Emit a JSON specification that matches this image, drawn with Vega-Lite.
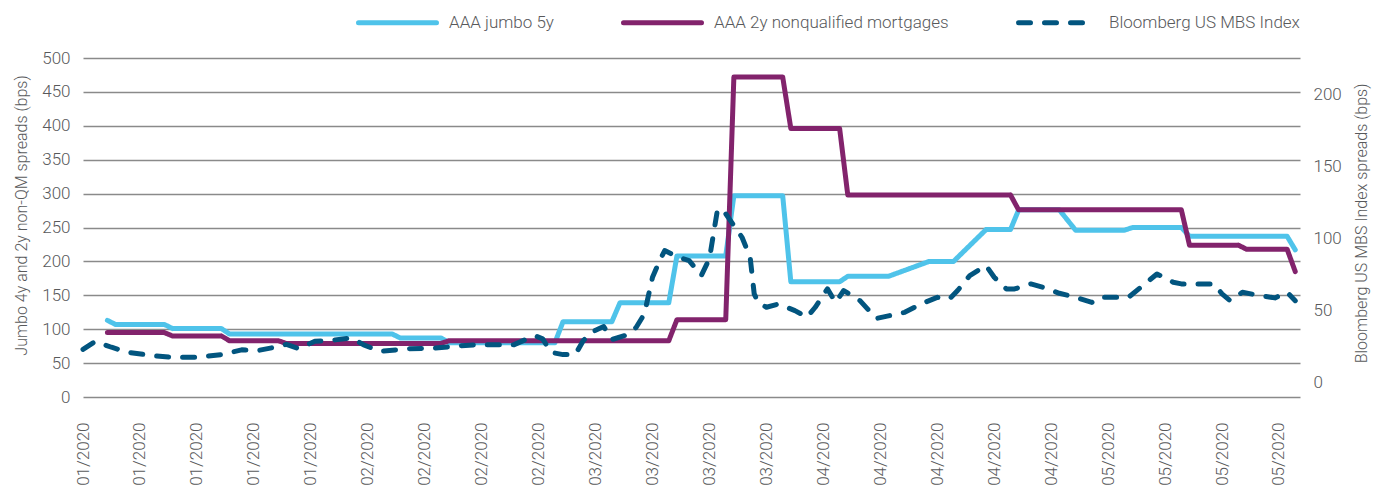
{
  "$schema": "https://vega.github.io/schema/vega-lite/v6.json",
  "width": 1217,
  "height": 339,
  "autosize": {"type": "none"},
  "padding": {"left": 83, "top": 58, "right": 88, "bottom": 90},
  "config": {
    "font": "Roboto",
    "view": {"stroke": null},
    "axis": {
      "labelFont": "Roboto", "labelFontSize": 17, "labelFontWeight": 300, "labelColor": "#58595b",
      "titleFont": "Roboto", "titleFontSize": 16, "titleFontWeight": 300, "titleColor": "#58595b",
      "ticks": false, "tickSize": 0, "domain": false,
      "gridColor": "#8a8a8a", "gridWidth": 1.4
    },
    "legend": {
      "labelFont": "Roboto", "labelFontSize": 17, "labelFontWeight": 300, "labelColor": "#58595b", "padding": 0, "labelLimit": 400
    }
  },
  "data": {
    "values": [
      {"date": "2020-01-04", "series": "AAA jumbo 5y", "bps": 113},
      {"date": "2020-01-05", "series": "AAA jumbo 5y", "bps": 107},
      {"date": "2020-01-11", "series": "AAA jumbo 5y", "bps": 107},
      {"date": "2020-01-12", "series": "AAA jumbo 5y", "bps": 101},
      {"date": "2020-01-18", "series": "AAA jumbo 5y", "bps": 101},
      {"date": "2020-01-19", "series": "AAA jumbo 5y", "bps": 93},
      {"date": "2020-02-08", "series": "AAA jumbo 5y", "bps": 93},
      {"date": "2020-02-09", "series": "AAA jumbo 5y", "bps": 87},
      {"date": "2020-02-14", "series": "AAA jumbo 5y", "bps": 87},
      {"date": "2020-02-15", "series": "AAA jumbo 5y", "bps": 80},
      {"date": "2020-02-28", "series": "AAA jumbo 5y", "bps": 80},
      {"date": "2020-02-29", "series": "AAA jumbo 5y", "bps": 111},
      {"date": "2020-03-06", "series": "AAA jumbo 5y", "bps": 111},
      {"date": "2020-03-07", "series": "AAA jumbo 5y", "bps": 139},
      {"date": "2020-03-13", "series": "AAA jumbo 5y", "bps": 139},
      {"date": "2020-03-14", "series": "AAA jumbo 5y", "bps": 208},
      {"date": "2020-03-20", "series": "AAA jumbo 5y", "bps": 208},
      {"date": "2020-03-21", "series": "AAA jumbo 5y", "bps": 297},
      {"date": "2020-03-27", "series": "AAA jumbo 5y", "bps": 297},
      {"date": "2020-03-28", "series": "AAA jumbo 5y", "bps": 170},
      {"date": "2020-04-03", "series": "AAA jumbo 5y", "bps": 170},
      {"date": "2020-04-04", "series": "AAA jumbo 5y", "bps": 178},
      {"date": "2020-04-09", "series": "AAA jumbo 5y", "bps": 178},
      {"date": "2020-04-14", "series": "AAA jumbo 5y", "bps": 200},
      {"date": "2020-04-17", "series": "AAA jumbo 5y", "bps": 200},
      {"date": "2020-04-21", "series": "AAA jumbo 5y", "bps": 247},
      {"date": "2020-04-24", "series": "AAA jumbo 5y", "bps": 247},
      {"date": "2020-04-25", "series": "AAA jumbo 5y", "bps": 276},
      {"date": "2020-04-30", "series": "AAA jumbo 5y", "bps": 276},
      {"date": "2020-05-02", "series": "AAA jumbo 5y", "bps": 246},
      {"date": "2020-05-08", "series": "AAA jumbo 5y", "bps": 246},
      {"date": "2020-05-09", "series": "AAA jumbo 5y", "bps": 250},
      {"date": "2020-05-15", "series": "AAA jumbo 5y", "bps": 250},
      {"date": "2020-05-16", "series": "AAA jumbo 5y", "bps": 237},
      {"date": "2020-05-28", "series": "AAA jumbo 5y", "bps": 237},
      {"date": "2020-05-29", "series": "AAA jumbo 5y", "bps": 217},

      {"date": "2020-01-04", "series": "AAA 2y nonqualified mortgages", "bps": 95},
      {"date": "2020-01-11", "series": "AAA 2y nonqualified mortgages", "bps": 95},
      {"date": "2020-01-12", "series": "AAA 2y nonqualified mortgages", "bps": 90},
      {"date": "2020-01-18", "series": "AAA 2y nonqualified mortgages", "bps": 90},
      {"date": "2020-01-19", "series": "AAA 2y nonqualified mortgages", "bps": 83},
      {"date": "2020-01-25", "series": "AAA 2y nonqualified mortgages", "bps": 83},
      {"date": "2020-01-26", "series": "AAA 2y nonqualified mortgages", "bps": 79},
      {"date": "2020-02-14", "series": "AAA 2y nonqualified mortgages", "bps": 79},
      {"date": "2020-02-15", "series": "AAA 2y nonqualified mortgages", "bps": 83},
      {"date": "2020-03-13", "series": "AAA 2y nonqualified mortgages", "bps": 83},
      {"date": "2020-03-14", "series": "AAA 2y nonqualified mortgages", "bps": 114},
      {"date": "2020-03-20", "series": "AAA 2y nonqualified mortgages", "bps": 114},
      {"date": "2020-03-21", "series": "AAA 2y nonqualified mortgages", "bps": 472},
      {"date": "2020-03-27", "series": "AAA 2y nonqualified mortgages", "bps": 472},
      {"date": "2020-03-28", "series": "AAA 2y nonqualified mortgages", "bps": 396},
      {"date": "2020-04-03", "series": "AAA 2y nonqualified mortgages", "bps": 396},
      {"date": "2020-04-04", "series": "AAA 2y nonqualified mortgages", "bps": 298},
      {"date": "2020-04-24", "series": "AAA 2y nonqualified mortgages", "bps": 298},
      {"date": "2020-04-25", "series": "AAA 2y nonqualified mortgages", "bps": 276},
      {"date": "2020-05-15", "series": "AAA 2y nonqualified mortgages", "bps": 276},
      {"date": "2020-05-16", "series": "AAA 2y nonqualified mortgages", "bps": 224},
      {"date": "2020-05-22", "series": "AAA 2y nonqualified mortgages", "bps": 224},
      {"date": "2020-05-23", "series": "AAA 2y nonqualified mortgages", "bps": 218},
      {"date": "2020-05-28", "series": "AAA 2y nonqualified mortgages", "bps": 218},
      {"date": "2020-05-29", "series": "AAA 2y nonqualified mortgages", "bps": 185},

      {"date": "2020-01-01", "series": "Bloomberg US MBS Index", "bps": 23},
      {"date": "2020-01-02T12:00:00Z", "series": "Bloomberg US MBS Index", "bps": 28.5},
      {"date": "2020-01-04T12:00:00Z", "series": "Bloomberg US MBS Index", "bps": 24.5},
      {"date": "2020-01-06T12:00:00Z", "series": "Bloomberg US MBS Index", "bps": 21},
      {"date": "2020-01-09T12:00:00Z", "series": "Bloomberg US MBS Index", "bps": 18.7},
      {"date": "2020-01-12", "series": "Bloomberg US MBS Index", "bps": 17.5},
      {"date": "2020-01-15", "series": "Bloomberg US MBS Index", "bps": 17.5},
      {"date": "2020-01-18", "series": "Bloomberg US MBS Index", "bps": 19.4},
      {"date": "2020-01-20T12:00:00Z", "series": "Bloomberg US MBS Index", "bps": 22.7},
      {"date": "2020-01-22T12:00:00Z", "series": "Bloomberg US MBS Index", "bps": 22.2},
      {"date": "2020-01-25", "series": "Bloomberg US MBS Index", "bps": 25},
      {"date": "2020-01-26", "series": "Bloomberg US MBS Index", "bps": 26.5},
      {"date": "2020-01-27T12:00:00Z", "series": "Bloomberg US MBS Index", "bps": 23.5},
      {"date": "2020-01-29T12:00:00Z", "series": "Bloomberg US MBS Index", "bps": 28.6},
      {"date": "2020-02-01", "series": "Bloomberg US MBS Index", "bps": 29.6},
      {"date": "2020-02-03", "series": "Bloomberg US MBS Index", "bps": 31},
      {"date": "2020-02-04T12:00:00Z", "series": "Bloomberg US MBS Index", "bps": 26.1},
      {"date": "2020-02-06T12:00:00Z", "series": "Bloomberg US MBS Index", "bps": 21.7},
      {"date": "2020-02-10", "series": "Bloomberg US MBS Index", "bps": 23.4},
      {"date": "2020-02-13", "series": "Bloomberg US MBS Index", "bps": 23.8},
      {"date": "2020-02-16T12:00:00Z", "series": "Bloomberg US MBS Index", "bps": 25.6},
      {"date": "2020-02-18T12:00:00Z", "series": "Bloomberg US MBS Index", "bps": 26.3},
      {"date": "2020-02-23", "series": "Bloomberg US MBS Index", "bps": 26.3},
      {"date": "2020-02-25T12:00:00Z", "series": "Bloomberg US MBS Index", "bps": 32.6},
      {"date": "2020-02-26T12:00:00Z", "series": "Bloomberg US MBS Index", "bps": 30.3},
      {"date": "2020-02-27T12:00:00Z", "series": "Bloomberg US MBS Index", "bps": 21},
      {"date": "2020-02-29", "series": "Bloomberg US MBS Index", "bps": 19.4},
      {"date": "2020-03-01T12:00:00Z", "series": "Bloomberg US MBS Index", "bps": 19.4},
      {"date": "2020-03-02T12:00:00Z", "series": "Bloomberg US MBS Index", "bps": 29.1},
      {"date": "2020-03-03T12:00:00Z", "series": "Bloomberg US MBS Index", "bps": 34.9},
      {"date": "2020-03-05", "series": "Bloomberg US MBS Index", "bps": 38.8},
      {"date": "2020-03-06", "series": "Bloomberg US MBS Index", "bps": 29.8},
      {"date": "2020-03-08", "series": "Bloomberg US MBS Index", "bps": 33.3},
      {"date": "2020-03-09", "series": "Bloomberg US MBS Index", "bps": 38.3},
      {"date": "2020-03-10", "series": "Bloomberg US MBS Index", "bps": 47.6},
      {"date": "2020-03-11", "series": "Bloomberg US MBS Index", "bps": 73},
      {"date": "2020-03-12", "series": "Bloomberg US MBS Index", "bps": 86},
      {"date": "2020-03-12T12:00:00Z", "series": "Bloomberg US MBS Index", "bps": 91.5},
      {"date": "2020-03-14", "series": "Bloomberg US MBS Index", "bps": 87.3},
      {"date": "2020-03-15T12:00:00Z", "series": "Bloomberg US MBS Index", "bps": 84.5},
      {"date": "2020-03-17", "series": "Bloomberg US MBS Index", "bps": 74.2},
      {"date": "2020-03-18", "series": "Bloomberg US MBS Index", "bps": 86},
      {"date": "2020-03-19", "series": "Bloomberg US MBS Index", "bps": 120.4},
      {"date": "2020-03-20", "series": "Bloomberg US MBS Index", "bps": 117},
      {"date": "2020-03-22", "series": "Bloomberg US MBS Index", "bps": 100.7},
      {"date": "2020-03-23", "series": "Bloomberg US MBS Index", "bps": 86.8},
      {"date": "2020-03-23T12:00:00Z", "series": "Bloomberg US MBS Index", "bps": 61.5},
      {"date": "2020-03-24", "series": "Bloomberg US MBS Index", "bps": 55.4},
      {"date": "2020-03-25", "series": "Bloomberg US MBS Index", "bps": 52.2},
      {"date": "2020-03-26T12:00:00Z", "series": "Bloomberg US MBS Index", "bps": 54.5},
      {"date": "2020-03-28T12:00:00Z", "series": "Bloomberg US MBS Index", "bps": 49.9},
      {"date": "2020-03-30", "series": "Bloomberg US MBS Index", "bps": 45.3},
      {"date": "2020-03-31", "series": "Bloomberg US MBS Index", "bps": 52.2},
      {"date": "2020-04-01T12:00:00Z", "series": "Bloomberg US MBS Index", "bps": 65},
      {"date": "2020-04-02T12:00:00Z", "series": "Bloomberg US MBS Index", "bps": 55.6},
      {"date": "2020-04-03T12:00:00Z", "series": "Bloomberg US MBS Index", "bps": 63.8},
      {"date": "2020-04-05T12:00:00Z", "series": "Bloomberg US MBS Index", "bps": 56.8},
      {"date": "2020-04-07T12:00:00Z", "series": "Bloomberg US MBS Index", "bps": 44.4},
      {"date": "2020-04-11", "series": "Bloomberg US MBS Index", "bps": 48.7},
      {"date": "2020-04-13", "series": "Bloomberg US MBS Index", "bps": 54.5},
      {"date": "2020-04-15", "series": "Bloomberg US MBS Index", "bps": 59.1},
      {"date": "2020-04-16T12:00:00Z", "series": "Bloomberg US MBS Index", "bps": 58},
      {"date": "2020-04-17T12:00:00Z", "series": "Bloomberg US MBS Index", "bps": 63.8},
      {"date": "2020-04-19", "series": "Bloomberg US MBS Index", "bps": 74.2},
      {"date": "2020-04-21", "series": "Bloomberg US MBS Index", "bps": 81.1},
      {"date": "2020-04-22", "series": "Bloomberg US MBS Index", "bps": 73},
      {"date": "2020-04-23T12:00:00Z", "series": "Bloomberg US MBS Index", "bps": 64.9},
      {"date": "2020-04-24T12:00:00Z", "series": "Bloomberg US MBS Index", "bps": 64.9},
      {"date": "2020-04-26T12:00:00Z", "series": "Bloomberg US MBS Index", "bps": 68.4},
      {"date": "2020-04-28", "series": "Bloomberg US MBS Index", "bps": 66},
      {"date": "2020-04-30", "series": "Bloomberg US MBS Index", "bps": 61.9},
      {"date": "2020-05-02", "series": "Bloomberg US MBS Index", "bps": 59.1},
      {"date": "2020-05-04", "series": "Bloomberg US MBS Index", "bps": 55.6},
      {"date": "2020-05-05", "series": "Bloomberg US MBS Index", "bps": 59.1},
      {"date": "2020-05-08T12:00:00Z", "series": "Bloomberg US MBS Index", "bps": 59.1},
      {"date": "2020-05-10", "series": "Bloomberg US MBS Index", "bps": 66},
      {"date": "2020-05-12", "series": "Bloomberg US MBS Index", "bps": 75.3},
      {"date": "2020-05-14", "series": "Bloomberg US MBS Index", "bps": 69.5},
      {"date": "2020-05-15", "series": "Bloomberg US MBS Index", "bps": 68.4},
      {"date": "2020-05-19", "series": "Bloomberg US MBS Index", "bps": 68.4},
      {"date": "2020-05-20", "series": "Bloomberg US MBS Index", "bps": 61.5},
      {"date": "2020-05-21", "series": "Bloomberg US MBS Index", "bps": 56.8},
      {"date": "2020-05-22T12:00:00Z", "series": "Bloomberg US MBS Index", "bps": 62.6},
      {"date": "2020-05-24", "series": "Bloomberg US MBS Index", "bps": 61},
      {"date": "2020-05-26T12:00:00Z", "series": "Bloomberg US MBS Index", "bps": 58.7},
      {"date": "2020-05-28", "series": "Bloomberg US MBS Index", "bps": 62.6},
      {"date": "2020-05-29", "series": "Bloomberg US MBS Index", "bps": 56.8}
    ]
  },
  "encoding": {
    "x": {
      "field": "date", "type": "temporal",
      "scale": {"type": "utc", "domain": [{"year": 2020, "month": 1, "date": 1, "utc": true}, {"year": 2020, "month": 5, "date": 29, "hours": 14, "utc": true}]},
      "axis": {
        "title": null, "grid": false, "format": "%m/%Y", "labelAngle": 270, "labelPadding": 25,
        "labelFlush": false, "labelOverlap": false, "labelFontSize": 17,
        "values": [
          {"year": 2020, "month": 1, "date": 1, "utc": true}, {"year": 2020, "month": 1, "date": 8, "utc": true},
          {"year": 2020, "month": 1, "date": 15, "utc": true}, {"year": 2020, "month": 1, "date": 22, "utc": true},
          {"year": 2020, "month": 1, "date": 29, "utc": true}, {"year": 2020, "month": 2, "date": 5, "utc": true},
          {"year": 2020, "month": 2, "date": 12, "utc": true}, {"year": 2020, "month": 2, "date": 19, "utc": true},
          {"year": 2020, "month": 2, "date": 26, "utc": true}, {"year": 2020, "month": 3, "date": 4, "utc": true},
          {"year": 2020, "month": 3, "date": 11, "utc": true}, {"year": 2020, "month": 3, "date": 18, "utc": true},
          {"year": 2020, "month": 3, "date": 25, "utc": true}, {"year": 2020, "month": 4, "date": 1, "utc": true},
          {"year": 2020, "month": 4, "date": 8, "utc": true}, {"year": 2020, "month": 4, "date": 15, "utc": true},
          {"year": 2020, "month": 4, "date": 22, "utc": true}, {"year": 2020, "month": 4, "date": 29, "utc": true},
          {"year": 2020, "month": 5, "date": 6, "utc": true}, {"year": 2020, "month": 5, "date": 13, "utc": true},
          {"year": 2020, "month": 5, "date": 20, "utc": true}, {"year": 2020, "month": 5, "date": 27, "utc": true}
        ]
      }
    },
    "color": {
      "field": "series", "type": "nominal",
      "scale": {"domain": ["AAA jumbo 5y", "AAA 2y nonqualified mortgages", "Bloomberg US MBS Index"], "range": ["#4fc3ea", "#82236c", "#02557f"]},
      "legend": {
        "orient": "none", "legendX": 273, "legendY": -77, "direction": "horizontal", "title": null,
        "symbolType": "stroke", "symbolSize": 6084, "symbolStrokeWidth": 5, "labelOffset": 10, "columnPadding": 59,
        "labelFontSize": 17, "labelLimit": 400,
        "encode": {"symbols": {"update": {"strokeCap": {"value": "round"}}}}
      }
    },
    "strokeDash": {
      "field": "series", "type": "nominal",
      "scale": {"domain": ["AAA jumbo 5y", "AAA 2y nonqualified mortgages", "Bloomberg US MBS Index"], "range": [[1, 0], [1, 0], [12, 14]]},
      "legend": {
        "orient": "none", "legendX": 273, "legendY": -77, "direction": "horizontal", "title": null,
        "symbolType": "stroke", "symbolSize": 6084, "symbolStrokeWidth": 5, "labelOffset": 10, "columnPadding": 59,
        "labelFontSize": 17, "labelLimit": 400,
        "encode": {"symbols": {"update": {"strokeCap": {"value": "round"}}}}
      }
    }
  },
  "layer": [
    {
      "transform": [{"filter": "datum.series !== 'Bloomberg US MBS Index'"}],
      "mark": {"type": "line", "strokeWidth": 5, "strokeCap": "round", "strokeJoin": "round"},
      "encoding": {
        "y": {
          "field": "bps", "type": "quantitative",
          "scale": {"domain": [0, 500], "nice": false},
          "axis": {"orient": "left", "title": "Jumbo 4y and 2y non-QM spreads (bps)", "values": [0, 50, 100, 150, 200, 250, 300, 350, 400, 450, 500], "grid": true, "labelPadding": 13, "titlePadding": 12, "titleY": 157}
        }
      }
    },
    {
      "transform": [{"filter": "datum.series === 'Bloomberg US MBS Index'"}],
      "mark": {"type": "line", "strokeWidth": 5, "strokeCap": "round", "strokeJoin": "round"},
      "encoding": {
        "y": {
          "field": "bps", "type": "quantitative",
          "scale": {"domain": [-10, 225], "nice": false, "zero": false},
          "axis": {"orient": "right", "title": "Bloomberg US MBS Index spreads (bps)", "values": [0, 50, 100, 150, 200], "grid": false, "labelPadding": 13, "titlePadding": 12, "titleAngle": 270, "titleBaseline": "top", "titleY": 165}
        }
      }
    }
  ],
  "resolve": {"scale": {"y": "independent"}}
}
